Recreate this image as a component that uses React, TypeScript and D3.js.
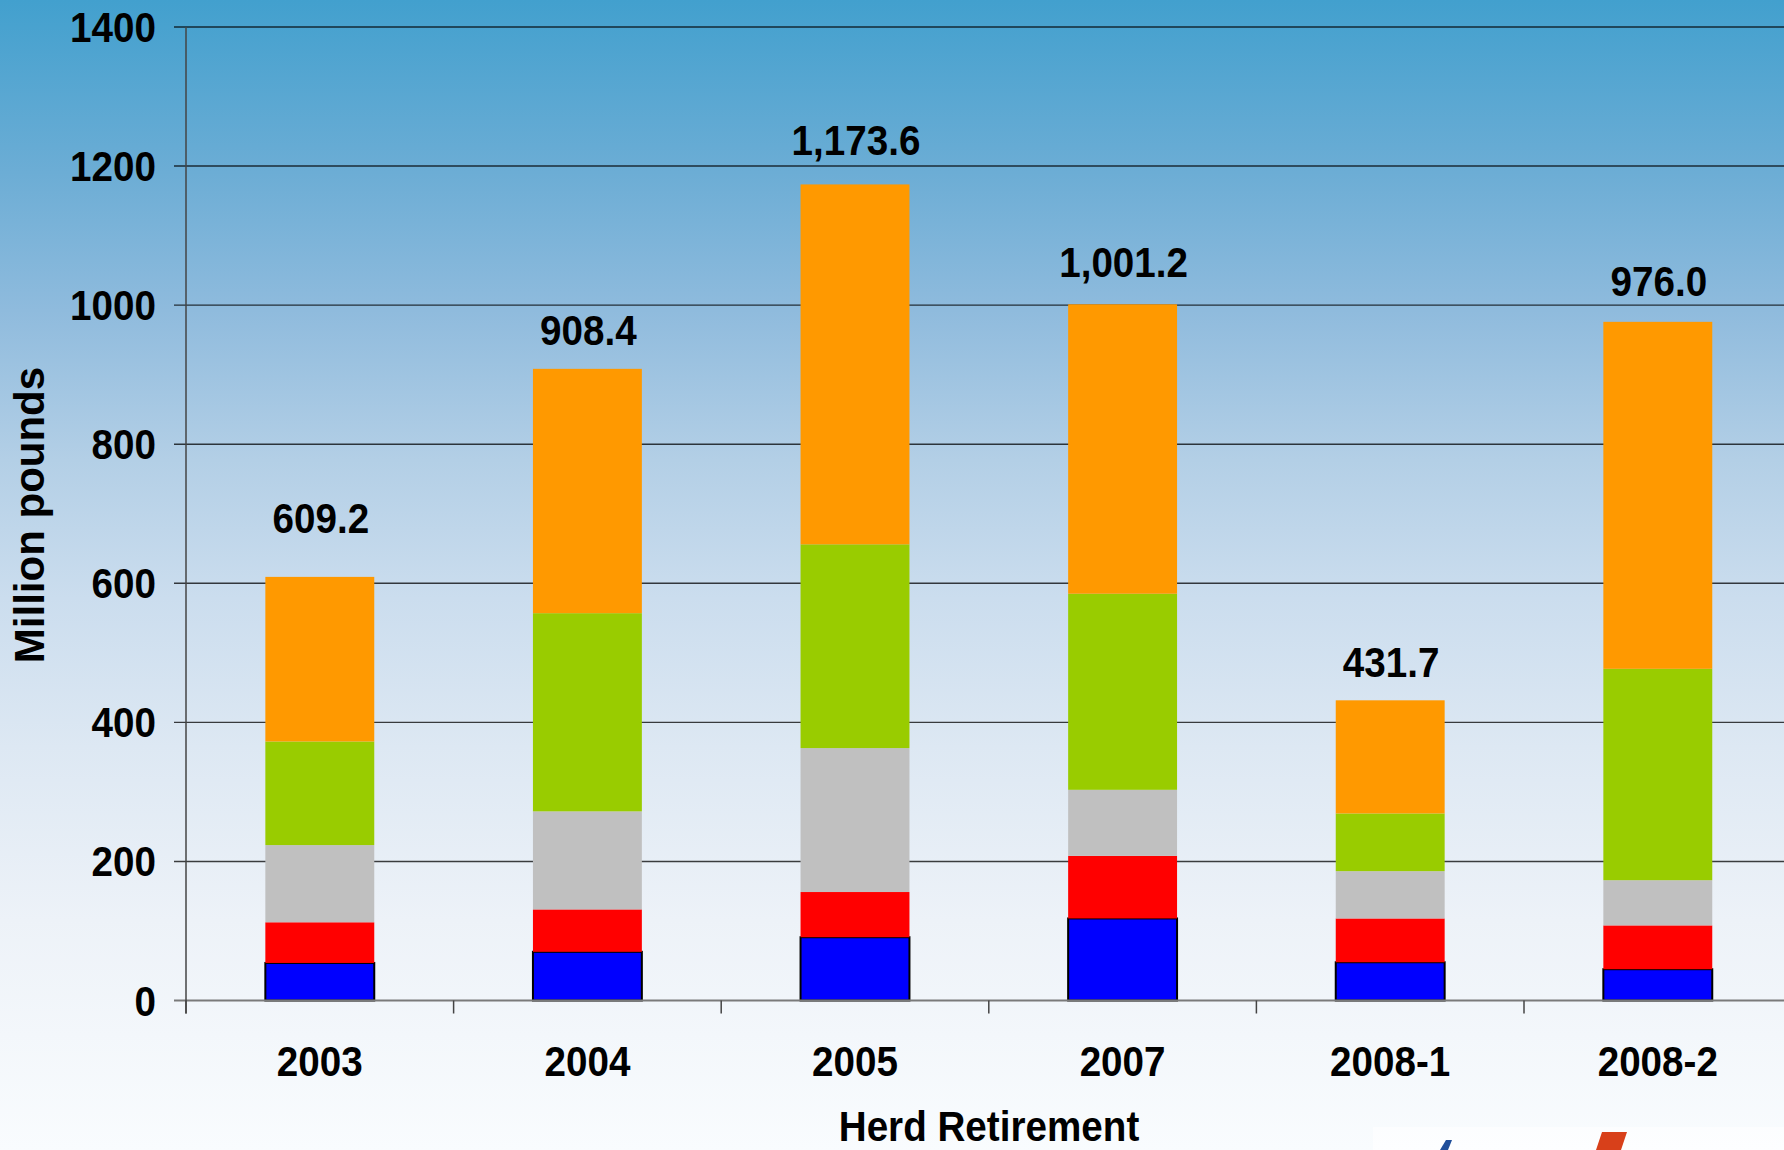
import React from "react";
import * as d3 from "d3";

// ---- data ----
const categories = ["2003", "2004", "2005", "2007", "2008-1", "2008-2"];
const blueVals = [54, 70, 91, 118, 55, 45];
const redVals = [58.5, 61, 65, 90, 63, 63];
const grayVals = [111, 141, 207, 95, 68, 65];
const greenVals = [149, 285, 293, 282, 83, 304];
const orangeVals = [236.7, 351.4, 517.6, 416.2, 162.7, 499];
const yTicks = [0, 200, 400, 600, 800, 1000, 1200, 1400];

// ---- styling ----
const seriesKeys = ["blue", "red", "gray", "green", "orange"];
const seriesColors: Record<string, string> = {
  blue: "#0000FF",
  red: "#FF0000",
  gray: "#C0C0C0",
  green: "#99CC00",
  orange: "#FF9900",
};
const labelGaps = [44, 24, 29, 27, 23, 26];

const W = 1784;
const H = 1150;
const FONT = "'Liberation Sans', Arial, Helvetica, sans-serif";
const FS = 42;
const SX = 0.92;

export default function App() {
  const rows = categories.map((c, i) => ({
    cat: c,
    blue: blueVals[i],
    red: redVals[i],
    gray: grayVals[i],
    green: greenVals[i],
    orange: orangeVals[i],
  }));
  const stack = d3.stack<any>().keys(seriesKeys);
  const layers = stack(rows);

  const x0 = 186;
  const step = 267.6;
  const x = d3
    .scaleBand<string>()
    .domain(categories)
    .range([x0, x0 + step * categories.length])
    .paddingInner(0.593)
    .paddingOuter(0.2965);
  const y = d3.scaleLinear().domain([0, 1400]).range([1000.5, 27]);
  const fmt = d3.format(",.1f");
  const totals = rows.map((r) => seriesKeys.reduce((s, k) => s + (r as any)[k], 0));

  const boundaries = d3.range(categories.length + 1).map((i) => x0 + i * x.step());

  const T = (
    px: number,
    py: number,
    str: string,
    anchor: string,
    key?: string
  ) => (
    <text
      key={key}
      transform={`translate(${px},${py}) scale(${SX},1)`}
      textAnchor={anchor as any}
      fontFamily={FONT}
      fontWeight="bold"
      fontSize={FS}
      fill="#000"
    >
      {str}
    </text>
  );

  return (
    <svg
      width={W}
      height={H}
      style={{ position: "absolute", left: 0, top: 0, display: "block" }}
    >
      <defs>
        <linearGradient id="bg" x1="0" y1="0" x2="0" y2="1">
          <stop offset="0" stopColor="#42A0CE" />
          <stop offset="0.15" stopColor="#6CADD5" />
          <stop offset="0.27" stopColor="#8FBBDD" />
          <stop offset="0.4" stopColor="#B3CFE6" />
          <stop offset="0.52" stopColor="#CBDDEE" />
          <stop offset="0.65" stopColor="#DDE8F3" />
          <stop offset="0.8" stopColor="#EDF2F8" />
          <stop offset="1" stopColor="#F9FCFE" />
        </linearGradient>
      </defs>
      <rect x={0} y={0} width={W} height={H} fill="url(#bg)" />

      {/* gridlines */}
      {yTicks
        .filter((t) => t > 0)
        .map((t) => (
          <line
            key={"g" + t}
            x1={x0 - 12}
            x2={W}
            y1={y(t)}
            y2={y(t)}
            stroke="#000"
            strokeOpacity={0.75}
            strokeWidth={1.4}
          />
        ))}

      {/* bars */}
      {layers.map((layer) => (
        <g key={layer.key}>
          {layer.map((d, i) => (
            <rect
              key={i}
              x={x(categories[i])!}
              y={y(d[1])}
              width={x.bandwidth()}
              height={y(d[0]) - y(d[1])}
              fill={seriesColors[layer.key]}
              stroke={layer.key === "blue" ? "#000" : "none"}
              strokeWidth={layer.key === "blue" ? 2 : 0}
            />
          ))}
        </g>
      ))}

      {/* x axis line */}
      <line x1={x0 - 12} x2={W} y1={y(0)} y2={y(0)} stroke="#7A7A7A" strokeWidth={2.2} />
      {/* category ticks */}
      {boundaries.map((b, i) => (
        <line key={"t" + i} x1={b} x2={b} y1={y(0)} y2={y(0) + 13} stroke="#444" strokeWidth={1.5} />
      ))}
      {/* y axis */}
      <line x1={x0} x2={x0} y1={y(1400)} y2={y(0) + 13} stroke="#444" strokeWidth={1.5} />

      {/* y tick labels */}
      {yTicks.map((t) => T(156, y(t) + 15, String(t), "end", "yl" + t))}

      {/* category labels */}
      {categories.map((c) => T(x(c)! + x.bandwidth() / 2, 1076, c, "middle", "cl" + c))}

      {/* total labels */}
      {categories.map((c, i) =>
        T(x(c)! + x.bandwidth() / 2 + 1, y(totals[i]) - labelGaps[i], fmt(totals[i]), "middle", "tl" + c)
      )}

      {/* axis titles */}
      {T(989, 1141, "Herd Retirement", "middle", "xt")}
      <text
        transform={`translate(44,515) rotate(-90)`}
        textAnchor="middle"
        fontFamily={FONT}
        fontWeight="bold"
        fontSize={FS}
        fill="#000"
      >
        Million pounds
      </text>

      {/* partial logo at bottom-right */}
      <rect x={1373} y={1127} width={W - 1373} height={H - 1127} fill="#FFFFFF" fillOpacity={0.6} />
      <path d="M1440,1150 L1446,1140 L1452,1140 L1448,1150 Z" fill="#1F4E9A" />
      <path d="M1596,1150 L1602,1132 L1627,1132 L1621,1150 Z" fill="#D8401A" />
    </svg>
  );
}
